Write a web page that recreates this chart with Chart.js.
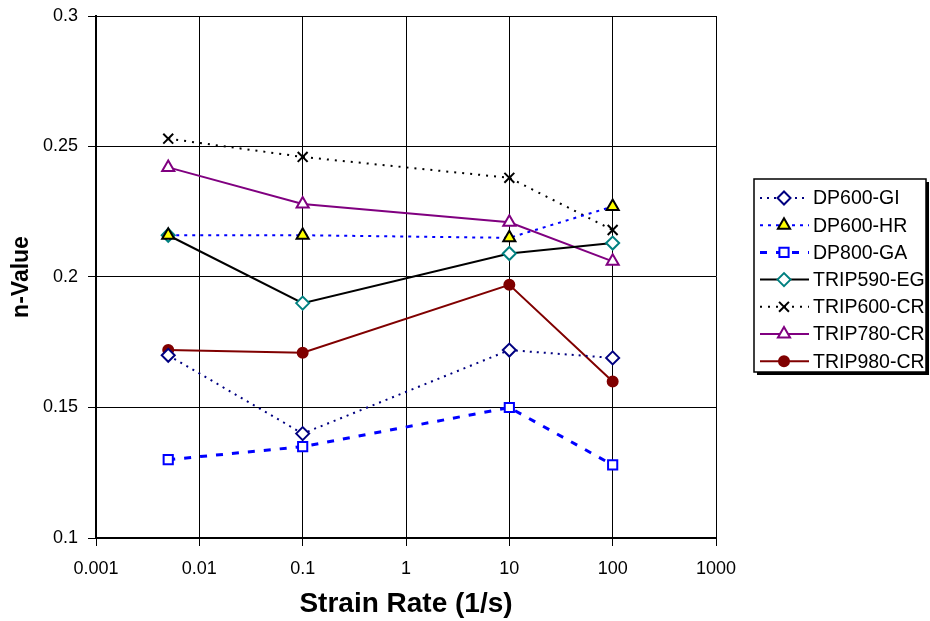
<!DOCTYPE html>
<html>
<head>
<meta charset="utf-8">
<script src="https://cdn.jsdelivr.net/npm/chart.js@4"></script>
<style>
  html, body { margin: 0; padding: 0; background: #fff; }
  #wrap { width: 930px; height: 621px; }
</style>
</head>
<body>
<div id="wrap"><canvas id="myChart" width="930" height="621"></canvas></div>
<script>
// strain rates (1/s)
const rates = [0.005, 0.1, 10, 100];
const xTicks = [0.001, 0.01, 0.1, 1, 10, 100, 1000];
const yTicks = [0.1, 0.15, 0.2, 0.25, 0.3];

const seriesNames = ["DP600-GI", "DP600-HR", "DP800-GA", "TRIP590-EG", "TRIP600-CR", "TRIP780-CR", "TRIP980-CR"];
const dp600gi = [0.170, 0.140, 0.172, 0.169];
const dp600hr = [0.216, 0.216, 0.215, 0.227];
const dp800ga = [0.130, 0.135, 0.150, 0.128];
const trip590eg = [0.216, 0.190, 0.209, 0.213];
const trip600cr = [0.253, 0.246, 0.238, 0.218];
const trip780cr = [0.242, 0.228, 0.221, 0.206];
const trip980cr = [0.172, 0.171, 0.197, 0.160];

const FONT = "'Liberation Sans', Arial, sans-serif";

// look of each series: line, marker
const styles = [
  { line: "#000080", width: 2, dash: [2, 5], style: "rectRot", r: 6.5, fill: "#fff", stroke: "#000080" },
  { line: "#0000ff", width: 2, dash: [3, 5], style: "triangle", r: 7, fill: "#ffff00", stroke: "#000" },
  { line: "#0000ff", width: 3, dash: [7, 9], style: "rect", r: 6.5, fill: "#fff", stroke: "#0000ff" },
  { line: "#000", width: 2, dash: [], style: "rectRot", r: 6.5, fill: "#fff", stroke: "#008080" },
  { line: "#000", width: 2, dash: [2, 6], style: "crossRot", r: 7, fill: "#000", stroke: "#000" },
  { line: "#800080", width: 2, dash: [], style: "triangle", r: 7, fill: "#fff", stroke: "#800080" },
  { line: "#800000", width: 2, dash: [], style: "circle", r: 5, fill: "#800000", stroke: "#800000" },
];

const allValues = [dp600gi, dp600hr, dp800ga, trip590eg, trip600cr, trip780cr, trip980cr];

const datasets = allValues.map((vals, i) => {
  const s = styles[i];
  return {
    label: seriesNames[i],
    data: vals.map((v, j) => ({ x: rates[j], y: v })),
    borderColor: s.line,
    borderWidth: s.width,
    borderDash: s.dash,
    pointStyle: s.style,
    pointRadius: s.r,
    pointBackgroundColor: s.fill,
    pointBorderColor: s.stroke,
    pointBorderWidth: 2,
    tension: 0,
    fill: false,
  };
});

// legend box on the right, drawn like the original (line sample + marker)
const boxLegend = {
  id: "boxLegend",
  afterDraw(chart) {
    const ctx = chart.ctx;
    const x0 = 754, y0 = 179, w = 172, h = 193;
    ctx.save();
    ctx.fillStyle = "#000";
    ctx.fillRect(x0 + 3, y0 + 3, w, h);
    ctx.fillStyle = "#fff";
    ctx.fillRect(x0, y0, w, h);
    ctx.strokeStyle = "#000";
    ctx.lineWidth = 1.5;
    ctx.strokeRect(x0, y0, w, h);
    ctx.font = "19.5px " + FONT;
    ctx.textBaseline = "middle";
    seriesNames.forEach((name, i) => {
      const s = styles[i];
      const y = 198 + i * 27.2;
      ctx.beginPath();
      ctx.setLineDash(s.dash);
      ctx.strokeStyle = s.line;
      ctx.lineWidth = s.width;
      ctx.moveTo(760, y);
      ctx.lineTo(809, y);
      ctx.stroke();
      ctx.setLineDash([]);
      ctx.fillStyle = s.fill;
      ctx.strokeStyle = s.stroke;
      ctx.lineWidth = 2;
      Chart.helpers.drawPoint(ctx, { pointStyle: s.style, radius: s.r, rotation: 0, borderWidth: 2 }, 784, y);
      ctx.fillStyle = "#000";
      ctx.fillText(name, 813, y + 1);
    });
    ctx.restore();
  },
};

new Chart(document.getElementById("myChart"), {
  type: "line",
  data: { datasets: datasets },
  plugins: [boxLegend],
  options: {
    responsive: false,
    animation: false,
    layout: { padding: { top: 16, right: 214, left: 8, bottom: 0 } },
    plugins: {
      legend: { display: false },
      tooltip: { enabled: false },
    },
    scales: {
      x: {
        type: "logarithmic",
        min: 0.001,
        max: 1000,
        afterBuildTicks: (scale) => {
          scale.ticks = xTicks.map((v) => ({ value: v }));
        },
        afterFit: (scale) => {
          scale.height = 83;
        },
        ticks: {
          autoSkip: false,
          maxRotation: 0,
          padding: 12,
          color: "#000",
          font: { family: FONT, size: 18 },
          callback: (value) => String(value),
        },
        grid: { color: "#000", lineWidth: 1, tickLength: 8 },
        border: { color: "#000", width: 2 },
        title: {
          display: true,
          text: "Strain Rate (1/s)",
          color: "#000",
          font: { family: FONT, size: 28, weight: "bold" },
          padding: { top: 4, bottom: 0 },
        },
      },
      y: {
        type: "linear",
        min: 0.1,
        max: 0.3,
        afterBuildTicks: (scale) => {
          scale.ticks = yTicks.map((v) => ({ value: v }));
        },
        afterFit: (scale) => {
          scale.width = 88;
          scale.paddingTop = 0;
          scale.paddingBottom = 0;
        },
        ticks: {
          padding: 10,
          color: "#000",
          font: { family: FONT, size: 18 },
          callback: (value) => String(+value.toFixed(2)),
        },
        grid: { color: "#000", lineWidth: 1, tickLength: 8 },
        border: { color: "#000", width: 2 },
        title: {
          display: true,
          text: "n-Value",
          color: "#000",
          font: { family: FONT, size: 23, weight: "bold" },
          padding: { top: 0, bottom: 0 },
        },
      },
    },
  },
});
</script>
</body>
</html>
